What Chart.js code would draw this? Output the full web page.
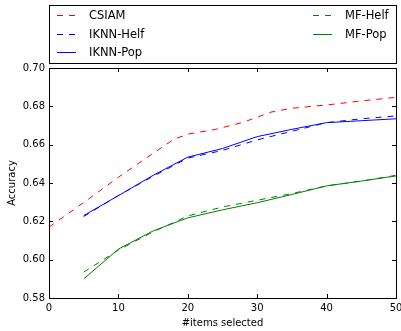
<!DOCTYPE html>
<html>
<head>
<meta charset="utf-8">
<script src="https://cdn.jsdelivr.net/npm/chart.js@4/dist/chart.umd.min.js"></script>
<style>
html, body { margin: 0; padding: 0; background: #fff; }
</style>
</head>
<body>
<canvas id="accuracy-chart" width="401" height="331"></canvas>
<script>
let csiamItems = [0, 5, 10, 15, 18, 20, 24, 28, 32, 35, 40, 45, 50]
let csiam = [0.617, 0.6298, 0.643, 0.6555, 0.6628, 0.6655, 0.668, 0.6717, 0.677, 0.679, 0.6807, 0.6828, 0.6847]

let items = [5, 10, 15, 20, 25, 30, 35, 40, 45, 50]
let iknnHelf = [0.6225, 0.6335, 0.6435, 0.653, 0.657, 0.6625, 0.667, 0.6715, 0.6735, 0.675]
let iknnPop = [0.623, 0.6334, 0.644, 0.6535, 0.658, 0.6642, 0.668, 0.6715, 0.6725, 0.6735]
let mfHelf = [0.5935, 0.605, 0.6145, 0.6228, 0.6275, 0.631, 0.6345, 0.6385, 0.641, 0.644]
let mfPop = [0.590, 0.6055, 0.615, 0.6218, 0.626, 0.6297, 0.634, 0.6385, 0.641, 0.6437]

let xTicks = [0, 10, 20, 30, 40, 50]
let yTicks = [0.58, 0.60, 0.62, 0.64, 0.66, 0.68, 0.70]

function points(xs, ys) {
    return xs.map((x, i) => ({x: x, y: ys[i]}))
}

function line(label, xs, ys, color, dashed) {
    return {
        label: label,
        data: points(xs, ys),
        borderColor: color,
        backgroundColor: color,
        borderWidth: 1,
        borderDash: dashed ? [6, 6] : [],
        pointRadius: 0,
        tension: 0,
        fill: false
    }
}

// matplotlib style frame, inward ticks on all sides, and a 2 column legend box
let mplDecor = {
    id: 'mplDecor',
    afterDraw(chart) {
        let ctx = chart.ctx
        let a = chart.chartArea
        let xs = chart.scales.x
        let ys = chart.scales.y
        ctx.save()
        ctx.strokeStyle = '#000'
        ctx.lineWidth = 1
        ctx.setLineDash([])
        ctx.beginPath()
        xTicks.forEach(v => {
            let px = Math.round(xs.getPixelForValue(v)) + 0.5
            ctx.moveTo(px, a.bottom); ctx.lineTo(px, a.bottom - 4)
            ctx.moveTo(px, a.top); ctx.lineTo(px, a.top + 4)
        })
        yTicks.forEach(v => {
            let py = Math.round(ys.getPixelForValue(v)) + 0.5
            ctx.moveTo(a.left, py); ctx.lineTo(a.left + 4, py)
            ctx.moveTo(a.right, py); ctx.lineTo(a.right - 4, py)
        })
        ctx.stroke()
        ctx.strokeRect(Math.round(a.left) + 0.5, Math.round(a.top) + 0.5,
            Math.round(a.right - a.left), Math.round(a.bottom - a.top))

        // legend
        let boxTop = 5, boxBottom = 63
        ctx.strokeRect(Math.round(a.left) + 0.5, boxTop + 0.5,
            Math.round(a.right - a.left), boxBottom - boxTop)
        let rows = [15, 33.5, 52]
        let cols = [a.left + 8, a.right - 83]
        ctx.font = '11.5px "DejaVu Sans"'
        ctx.textBaseline = 'middle'
        ctx.fillStyle = '#000'
        chart.data.datasets.forEach((ds, i) => {
            let col = i < 3 ? 0 : 1
            let row = i < 3 ? i : i - 3
            let x0 = Math.round(cols[col])
            let y0 = Math.round(rows[row]) + 0.5
            ctx.strokeStyle = ds.borderColor
            ctx.setLineDash(ds.borderDash)
            ctx.beginPath()
            ctx.moveTo(x0, y0); ctx.lineTo(x0 + 19, y0)
            ctx.stroke()
            ctx.fillText(ds.label, x0 + 32, y0 + 1)
        })
        ctx.restore()
    }
}

let ctx = document.querySelector('#accuracy-chart').getContext('2d')

let accuracyChart = new Chart(ctx, {
    type: 'line',
    data: {
        datasets: [
            line('CSIAM', csiamItems, csiam, '#ff0000', true),
            line('IKNN-Helf', items, iknnHelf, '#0000ff', true),
            line('IKNN-Pop', items, iknnPop, '#0000ff', false),
            line('MF-Helf', items, mfHelf, '#008000', true),
            line('MF-Pop', items, mfPop, '#008000', false)
        ]
    },
    options: {
        responsive: false,
        animation: false,
        devicePixelRatio: 1,
        layout: { padding: { top: 68, right: 5, left: 6, bottom: 2 } },
        plugins: { legend: { display: false }, tooltip: { enabled: false } },
        scales: {
            x: {
                type: 'linear',
                min: 0,
                max: 50,
                afterBuildTicks: s => { s.ticks = xTicks.map(v => ({value: v})) },
                afterFit: s => { s.height = 31; s.paddingLeft = 0; s.paddingRight = 0 },
                grid: { display: false, drawTicks: false },
                border: { display: false },
                ticks: { color: '#000', padding: 4, maxRotation: 0, font: { family: 'DejaVu Sans', size: 10 } },
                title: { display: true, text: '#items selected', color: '#000', padding: 0, font: { family: 'DejaVu Sans', size: 10 } }
            },
            y: {
                min: 0.58,
                max: 0.70,
                afterBuildTicks: s => { s.ticks = yTicks.map(v => ({value: v})) },
                afterFit: s => { s.width = 43; s.paddingTop = 0; s.paddingBottom = 0 },
                grid: { display: false, drawTicks: false },
                border: { display: false },
                ticks: { color: '#000', padding: 4, callback: v => v.toFixed(2), font: { family: 'DejaVu Sans', size: 10 } },
                title: { display: true, text: 'Accuracy', color: '#000', padding: 0, font: { family: 'DejaVu Sans', size: 10 } }
            }
        }
    },
    plugins: [mplDecor]
})
</script>
</body>
</html>
